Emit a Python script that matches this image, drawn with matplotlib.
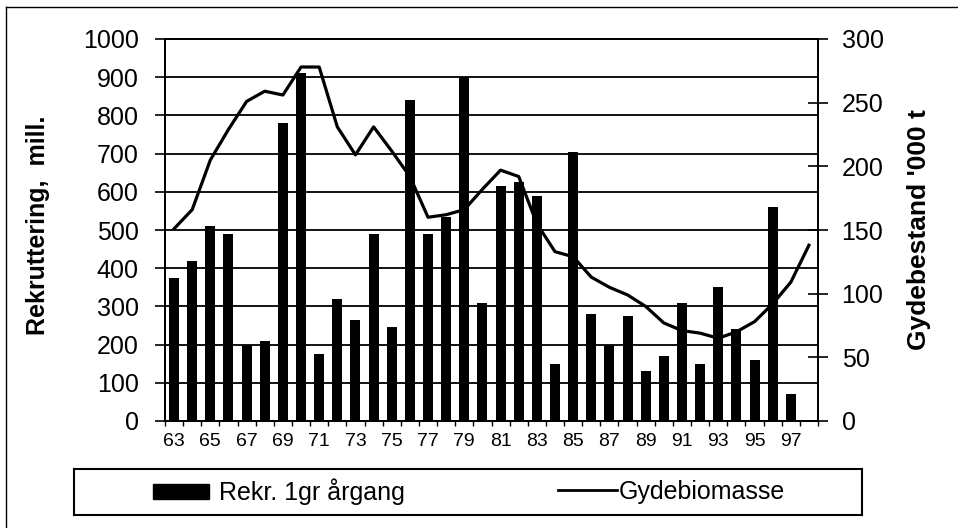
"""
Rekruttering (bars) og gydebiomasse (line), 1963-1998
"""

import matplotlib
matplotlib.use("Agg")
import matplotlib.pyplot as plt
import matplotlib.patches as mpatches
from matplotlib.lines import Line2D
import numpy as np

plt.rcParams['font.family'] = ['Liberation Sans', 'DejaVu Sans']

# data
years = list(range(63, 99))  # 63..98
recruits = [375, 420, 510, 490, 200, 210, 780, 910, 175, 320, 265, 490,
            245, 840, 490, 535, 900, 310, 615, 625, 590, 150, 705, 280,
            200, 275, 130, 170, 310, 150, 350, 240, 160, 560, 70]  # 63..97, mill.
biomass = [151, 166, 205, 229, 251, 259, 256, 278, 278, 231, 209, 231,
           212, 192, 160, 162, 166, 182, 197, 192, 155, 133, 129, 113,
           105, 99, 90, 77, 71, 69, 65, 70, 78, 92, 109, 138]  # 63..98, '000 t
tick_years = [str(y) for y in years[::2] if y <= 97]

W, H = 958, 528
fig = plt.figure(figsize=(W / 100, H / 100), dpi=100)
ax = fig.add_axes([165 / W, 1 - 421 / H, (818 - 165) / W, (421 - 39) / H])

x = np.arange(len(years))

# bars
ax.bar(x[:len(recruits)], recruits, width=0.55, color='black', zorder=2)
ax.set_xlim(-0.5, len(years) - 0.5)
ax.set_ylim(0, 1000)
ax.set_yticks(np.arange(0, 1001, 100))
ax.yaxis.grid(True, color='black', lw=1.3, zorder=1)
ax.set_axisbelow(True)
ax.tick_params(axis='y', direction='out', length=7, width=1.2, labelsize=18, pad=12)

# x ticks at the category borders, labels at odd years
ax.set_xticks(np.arange(-0.5, len(years), 1.0))
ax.set_xticklabels([])
ax.tick_params(axis='x', which='major', direction='out', length=3.5, width=1.0)
ax.set_xticks(x[:len(tick_years) * 2:2], minor=True)
ax.set_xticklabels(tick_years, minor=True)
ax.tick_params(axis='x', which='minor', length=0, labelsize=14, pad=9)

for s in ax.spines.values():
    s.set_linewidth(1.3)

# line on the right axis
ax2 = ax.twinx()
ax2.plot(x, biomass, color='black', lw=2.3, zorder=3)
ax2.set_ylim(0, 300)
ax2.set_yticks(np.arange(0, 301, 50))
ax2.tick_params(axis='y', direction='inout', length=14, width=1.2, labelsize=18, pad=10)
for s in ax2.spines.values():
    s.set_linewidth(1.3)

# axis titles
fig.text(38 / W, 1 - 225 / H, 'Rekruttering,  mill.', rotation=90, ha='center', va='center',
         fontsize=18, fontweight='bold')
fig.text(919 / W, 1 - 230 / H, "Gydebestand '000 t", rotation=90, ha='center', va='center',
         fontsize=19, fontweight='bold')

# legend
fig.add_artist(mpatches.Rectangle((74 / W, 1 - 515 / H), (862 - 74) / W, 46 / H,
                                  transform=fig.transFigure, fill=False, ec='black', lw=1.5))
fig.legend([mpatches.Patch(color='black')], ['Rekr. 1gr årgang'], loc='center left',
           bbox_to_anchor=(153 / W, 1 - 492 / H), frameon=False, fontsize=18,
           handlelength=2.24, handleheight=0.56, handletextpad=0.4,
           borderpad=0, borderaxespad=0)
fig.legend([Line2D([], [], color='black', lw=2)], ['Gydebiomasse'], loc='center left',
           bbox_to_anchor=(558 / W, 1 - 492 / H), frameon=False, fontsize=18,
           handlelength=2.36, handletextpad=0.08, borderpad=0, borderaxespad=0)

# outer frame (left and top edges of the page box)
fig.add_artist(Line2D([6 / W, 6 / W], [0, 1 - 7 / H], transform=fig.transFigure, color='black', lw=1))
fig.add_artist(Line2D([6 / W, 1], [1 - 7 / H, 1 - 7 / H], transform=fig.transFigure, color='black', lw=1))

fig.savefig('out.png', dpi=100)
